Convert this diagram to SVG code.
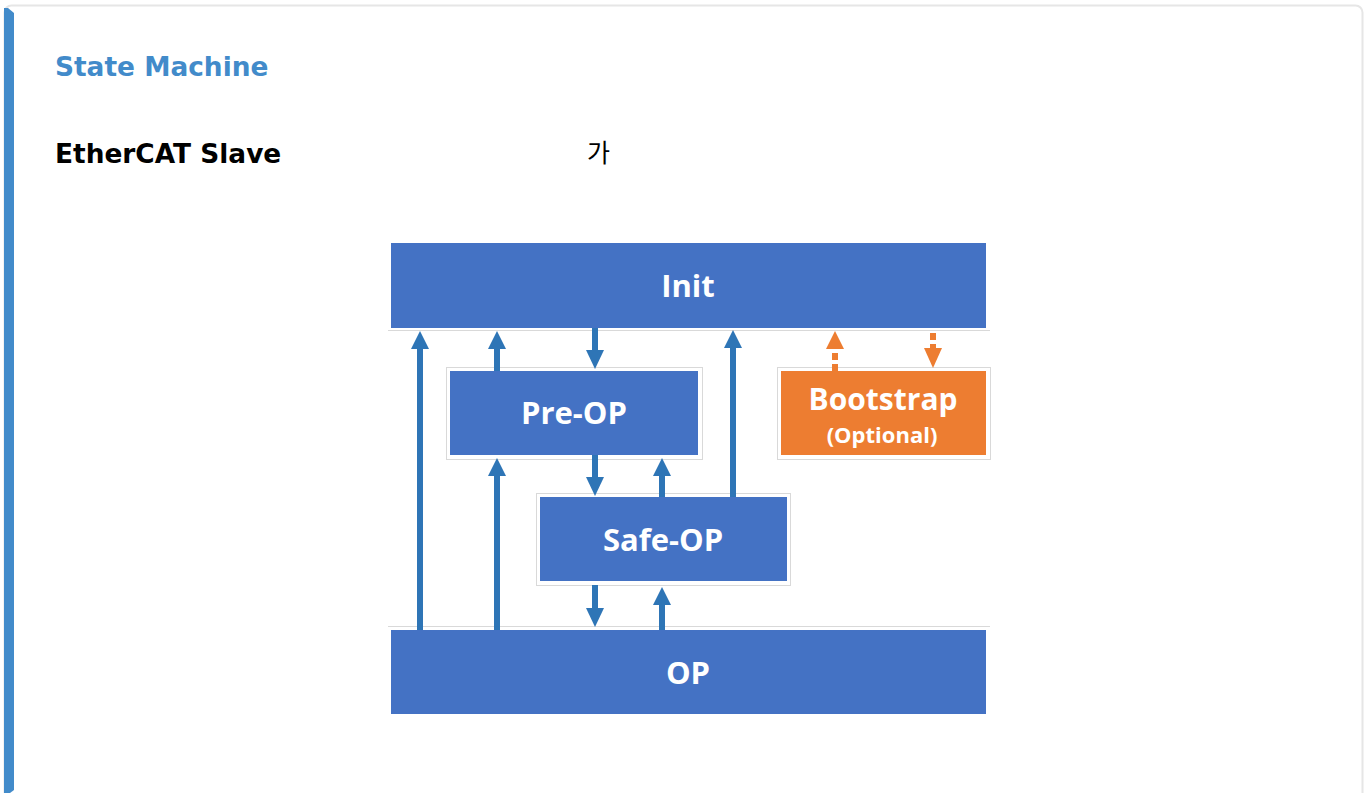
<svg xmlns="http://www.w3.org/2000/svg" width="1368" height="793" viewBox="0 0 1368 793">
  <defs>
    <style>
      .node { fill: #4472c4; }
      .boot { fill: #ed7d31; }
      .frame { fill: none; stroke: #d9d9d9; stroke-width: 1; }
      .lbl { font-family: "Open Sans", "Liberation Sans", sans-serif; font-weight: 700; fill: #ffffff; text-anchor: middle; }
      .shaft { stroke: #2e75b6; stroke-width: 6; fill: none; }
      .oshaft { stroke: #ed7d31; stroke-width: 6; fill: none; stroke-dasharray: 7 4; }
      .head { fill: #2e75b6; }
      .ohead { fill: #ed7d31; }
      .h1 { font-family: "DejaVu Sans", sans-serif; font-weight: bold; font-size: 26.4px; }
    </style>
  </defs>

  <rect x="0" y="0" width="1368" height="793" fill="#ffffff"/>
  <rect x="4.5" y="5.5" width="1358" height="800" rx="7" fill="#ffffff" stroke="#e6e6e6" stroke-width="2"/>
  <path d="M4 8 L8 8 L14 13 L14 790 L10 793 L4 793 Z" fill="#428bca"/>

  <text class="h1" x="55" y="76" fill="#428bca">State Machine</text>
  <text class="h1" x="55" y="163" fill="#000000">EtherCAT Slave</text>
  <text x="587" y="162" font-family="'Noto Sans CJK KR', sans-serif" font-size="25" fill="#000000">가</text>

  <g id="frames">
    <line class="frame" x1="388" y1="330.5" x2="990" y2="330.5"/>
    <line class="frame" x1="388" y1="626.5" x2="990" y2="626.5"/>
    <rect class="frame" x="446.5" y="367.5" width="256" height="92"/>
    <rect class="frame" x="536.5" y="493.5" width="254" height="92"/>
    <rect class="frame" x="777.5" y="367.5" width="213" height="92"/>
  </g>

  <g id="init">
    <rect class="node" x="391" y="243" width="595" height="85"/>
    <text class="lbl" x="688" y="297" font-size="31">Init</text>
  </g>
  <g id="preop">
    <rect class="node" x="450" y="371" width="248" height="84"/>
    <text class="lbl" x="574" y="424" font-size="31">Pre-OP</text>
  </g>
  <g id="safeop">
    <rect class="node" x="540" y="497" width="247" height="84"/>
    <text class="lbl" x="663" y="551" font-size="31">Safe-OP</text>
  </g>
  <g id="bootstrap">
    <rect class="boot" x="781" y="371" width="205" height="84"/>
    <text class="lbl" x="883" y="410" font-size="30">Bootstrap</text>
    <text class="lbl" x="882" y="443" font-size="22" font-weight="600">(Optional)</text>
  </g>
  <g id="op">
    <rect class="node" x="391" y="630" width="595" height="84"/>
    <text class="lbl" x="688" y="684" font-size="31">OP</text>
  </g>

  <g id="connectors">
    <line class="shaft" x1="420" y1="630" x2="420" y2="346"/>
    <polygon class="head" points="420,331 411,349 429,349"/>
    <line class="shaft" x1="497" y1="371" x2="497" y2="346"/>
    <polygon class="head" points="497,331 488,349 506,349"/>
    <line class="shaft" x1="497" y1="630" x2="497" y2="473"/>
    <polygon class="head" points="497,458 488,476 506,476"/>
    <line class="shaft" x1="595" y1="328" x2="595" y2="352"/>
    <polygon class="head" points="595,369 586,350 604,350"/>
    <line class="shaft" x1="595" y1="455" x2="595" y2="479"/>
    <polygon class="head" points="595,496 586,477 604,477"/>
    <line class="shaft" x1="662" y1="497" x2="662" y2="473"/>
    <polygon class="head" points="662,458 653,476 671,476"/>
    <line class="shaft" x1="733" y1="497" x2="733" y2="345"/>
    <polygon class="head" points="733,330 724,348 742,348"/>
    <line class="shaft" x1="595" y1="585" x2="595" y2="610"/>
    <polygon class="head" points="595,627 586,608 604,608"/>
    <line class="shaft" x1="662" y1="630" x2="662" y2="602"/>
    <polygon class="head" points="662,587 653,605 671,605"/>
    <line class="oshaft" x1="835" y1="371" x2="835" y2="348"/>
    <polygon class="ohead" points="835,331 826,349 844,349"/>
    <line class="oshaft" x1="933" y1="333" x2="933" y2="348"/>
    <polygon class="ohead" points="933,368 924,348 942,348"/>
  </g>
</svg>
